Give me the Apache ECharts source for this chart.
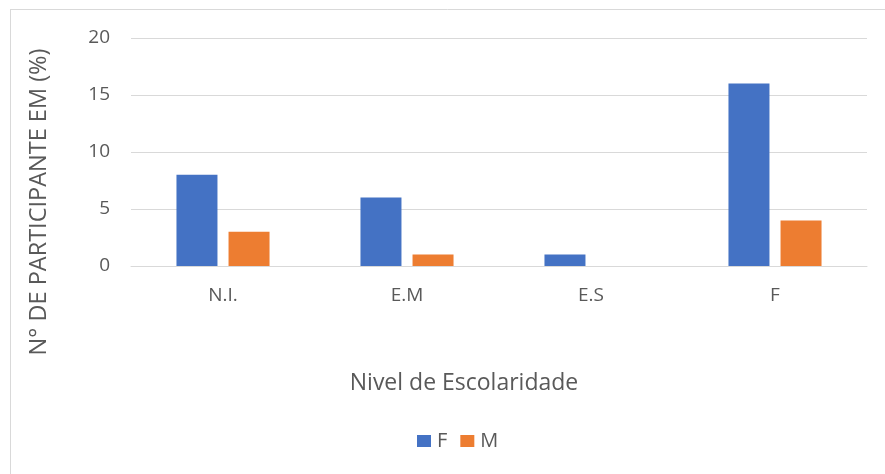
<!DOCTYPE html>
<html>
<head>
<meta charset="utf-8">
<script src="https://cdn.jsdelivr.net/npm/echarts@6/dist/echarts.min.js"></script>
<style>html,body{margin:0;padding:0;background:#fff;}#c{width:885px;height:474px;}</style>
</head>
<body>
<div id="c"></div>
<script>
var categories = ['N.I.', 'E.M', 'E.S', 'F'];
var seriesF = [8, 6, 1, 16];
var seriesM = [3, 1, 0, 4];
var yTicks = [0, 5, 10, 15, 20];

var txt = '#595959';
var font = 'Open Sans';
var chart = echarts.init(document.getElementById('c'));
chart.setOption({
  animation: false,
  backgroundColor: '#fff',
  textStyle: { fontFamily: font },
  grid: { left: 131, right: 18, top: 38, bottom: 208, containLabel: false },
  legend: {
    data: ['F', 'M'],
    left: 417,
    top: 431,
    padding: 0,
    itemWidth: 14,
    itemHeight: 12,
    itemGap: 13,
    icon: 'rect',
    textStyle: { color: txt, fontSize: 20, fontFamily: font, padding: [0, 0, 0, 1] }
  },
  xAxis: {
    type: 'category',
    data: categories,
    axisLine: { show: true, lineStyle: { color: '#d9d9d9', width: 1 } },
    axisTick: { show: false },
    axisLabel: { color: txt, fontSize: 19, fontFamily: font, margin: 20 }
  },
  yAxis: {
    type: 'value',
    min: yTicks[0],
    max: yTicks[yTicks.length - 1],
    interval: 5,
    axisLine: { show: false },
    axisTick: { show: false },
    axisLabel: { color: txt, fontSize: 19, fontFamily: font, margin: 21 },
    splitLine: { lineStyle: { color: '#d9d9d9', width: 1 } }
  },
  graphic: [
    { type: 'line', shape: { x1: 10.5, y1: 9, x2: 10.5, y2: 474 }, style: { stroke: '#d9d9d9', lineWidth: 1 } },
    { type: 'line', shape: { x1: 10, y1: 9.5, x2: 885, y2: 9.5 }, style: { stroke: '#d9d9d9', lineWidth: 1 } },
    { type: 'text', x: 464, y: 383, style: { text: 'Nivel de Escolaridade', fill: txt, font: '23px "Open Sans"', textAlign: 'center', textVerticalAlign: 'middle' } },
    { type: 'text', x: 39, y: 202, rotation: Math.PI / 2, style: { text: 'N° DE PARTICIPANTE EM (%)', fill: txt, font: '23.5px "Open Sans"', textAlign: 'center', textVerticalAlign: 'middle' } }
  ],
  series: [
    { name: 'F', type: 'bar', data: seriesF, barWidth: 41, barGap: '27%', itemStyle: { color: '#4472C4' } },
    { name: 'M', type: 'bar', data: seriesM, barWidth: 41, barGap: '27%', itemStyle: { color: '#ED7D31' } }
  ]
});
</script>
</body>
</html>
